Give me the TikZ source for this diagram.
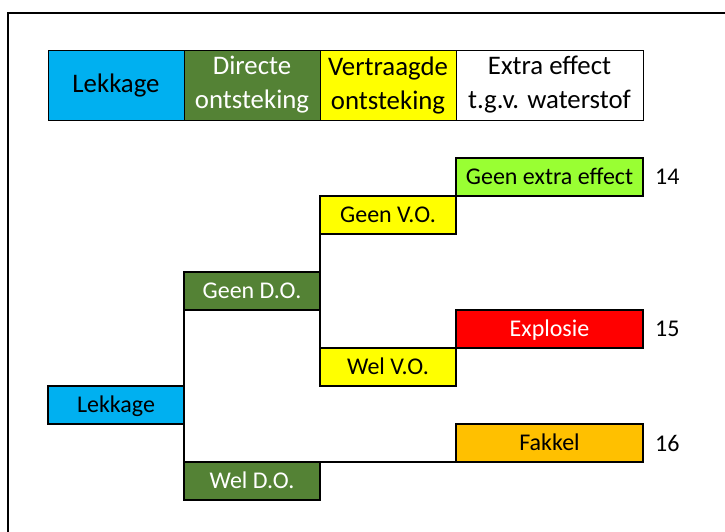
\documentclass[tikz,border=0pt]{standalone}
\usepackage{fontspec}
\setmainfont{Carlito}
\usetikzlibrary{positioning}

\definecolor{lekblue}{HTML}{00B0F0}
\definecolor{dogreen}{HTML}{548235}
\definecolor{voyellow}{HTML}{FFFF00}
\definecolor{nogreen}{HTML}{99FF33}
\definecolor{exred}{HTML}{FF0000}
\definecolor{fakorange}{HTML}{FFC000}

\begin{document}
\begin{tikzpicture}[
  x=1pt, y=-1pt,
  hdr/.style={
    draw, line width=1pt, anchor=north west, minimum height=70pt,
    inner sep=0pt, outer sep=0pt, align=center,
    font=\fontsize{26.8}{34}\selectfont,
  },
  box/.style={
    draw, line width=1.3pt, anchor=north west, minimum height=38pt,
    inner sep=0pt, outer sep=0pt, text height=15.5pt, text depth=0pt,
    font=\fontsize{24}{28}\selectfont,
  },
  narrow/.style={minimum width=136pt},
  wide/.style={minimum width=187pt},
  num/.style={inner sep=0pt, font=\fontsize{24}{28}\selectfont},
  link/.style={line width=1.3pt},
]
\useasboundingbox (0,0) rectangle (725,531);

% Outer frame, only the left and top side show
\draw[line width=2pt] (8,13) rectangle (760,570);

% Header row
\node[hdr, narrow, fill=lekblue] (h1) at (48,50) {Lekkage};
\node[hdr, narrow, fill=dogreen, text=white] (h2) at (184,50) {Directe\\ontsteking};
\node[hdr, narrow, fill=voyellow] (h3) at (320,50) {Vertraagde\\ontsteking};
\node[hdr, wide, fill=white] (h4) at (456,50) {Extra effect\\t.g.v. waterstof};

% Event tree
\node[box, narrow, fill=lekblue] (lek) at (48,386) {Lekkage};
\node[box, narrow, fill=dogreen, text=white] (gdo) at (184,272) {Geen D.O.};
\node[box, narrow, fill=dogreen, text=white] (wdo) at (184,462) {Wel D.O.};
\node[box, narrow, fill=voyellow] (gvo) at (320,196) {Geen V.O.};
\node[box, narrow, fill=voyellow] (wvo) at (320,348) {Wel V.O.};
\node[box, wide, fill=nogreen] (gee) at (456,158) {Geen extra effect};
\node[box, wide, fill=exred, text=white] (exp) at (456,310) {Explosie};
\node[box, wide, fill=fakorange] (fak) at (456,424) {Fakkel};

% Branch lines
\draw[link] (gdo.south west) -- (wdo.north west);
\draw[link] (gvo.south west) -- (wvo.north west);
\draw[link] (wdo.north east) -- (fak.south west);

% Scenario numbers
\node[num, right=12pt of gee] (n14) {14};
\node[num, right=12pt of exp] (n15) {15};
\node[num, right=12pt of fak] (n16) {16};

\end{tikzpicture}
\end{document}
